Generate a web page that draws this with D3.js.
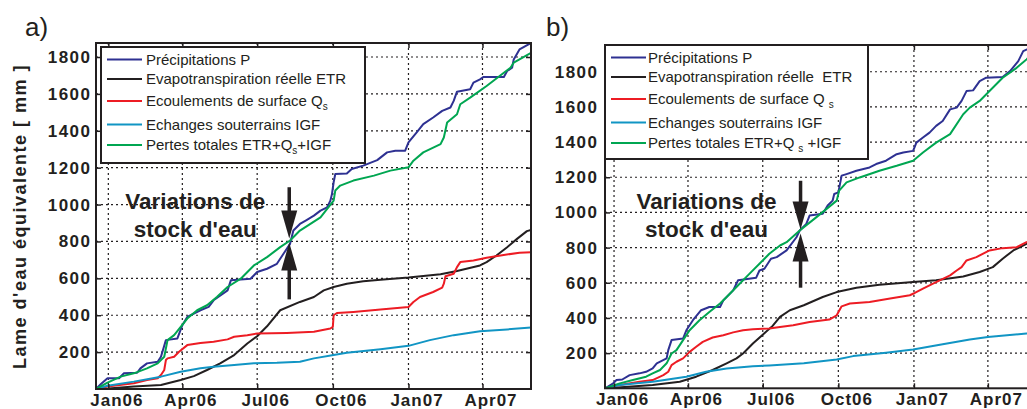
<!DOCTYPE html>
<html><head><meta charset="utf-8">
<script src="https://cdn.jsdelivr.net/npm/d3@7"></script>
<style>
body{margin:0;background:#fff}
svg{display:block}
text{font-family:"Liberation Sans",Arial,Helvetica,sans-serif;fill:#231f20}
</style>
</head><body>
<svg id="chart" width="1027" height="409"></svg>
<script>
// ---------- data (day = days since 1 Jan 2006, value in mm) ----------
const tickLabels = ["Jan06","Apr06","Jul06","Oct06","Jan07","Apr07"];
const tickDays = [0, 90, 181, 273, 365, 455];
const yTickValues = [200,400,600,800,1000,1200,1400,1600,1800];
const seriesColors = ["#2e3192","#231f20","#ed1c24","#1195c4","#00a651"];

// Panel a
const aP = [[-15,0],[-9,27],[-1,58],[13,58],[19,85],[35,88],[39,112],[47,139],[60,148],[64,175],[70,265],[84,274],[90,346],[96,391],[112,427],[122,445],[128,481],[145,535],[149,589],[173,598],[181,634],[193,652],[205,679],[213,733],[221,787],[225,859],[233,895],[240,913],[250,940],[258,967],[266,985],[270,1021],[272,1058],[274,1121],[276,1166],[290,1169],[296,1193],[310,1211],[327,1241],[339,1283],[349,1292],[361,1292],[365,1337],[375,1391],[383,1436],[395,1472],[406,1508],[416,1526],[420,1562],[424,1612],[440,1625],[444,1661],[452,1679],[456,1692],[481,1692],[485,1724],[491,1742],[493,1787],[500,1841],[511,1868],[514,1875]];
const aETR = [[-15,0],[0,3],[31,13],[64,22],[88,49],[104,70],[120,103],[136,139],[153,184],[169,247],[181,286],[193,340],[209,427],[233,472],[250,499],[262,535],[274,553],[290,571],[310,584],[331,593],[365,604],[404,622],[424,640],[452,670],[460,688],[472,724],[485,769],[497,814],[509,856],[514,863]];
const aQs = [[-15,0],[-1,13],[31,31],[47,49],[60,58],[64,76],[68,103],[70,157],[72,166],[80,175],[86,202],[96,238],[112,250],[128,256],[145,269],[153,283],[169,292],[181,301],[217,304],[250,310],[270,328],[273,337],[274,400],[278,412],[298,418],[331,431],[365,445],[371,472],[379,499],[395,526],[406,550],[408,571],[410,611],[420,625],[424,661],[428,688],[444,697],[460,712],[477,724],[500,739],[514,742]];
const aIGF = [[-15,0],[-1,18],[31,40],[64,67],[88,94],[112,112],[128,121],[153,130],[177,139],[205,142],[233,148],[250,166],[274,184],[290,196],[331,215],[365,234],[391,265],[420,292],[452,313],[485,323],[514,333]];
const aTot = [[-15,0],[-1,35],[15,67],[31,85],[47,112],[60,139],[68,175],[72,265],[80,292],[88,337],[96,382],[108,427],[120,454],[132,499],[145,553],[161,598],[177,670],[193,715],[209,769],[221,805],[233,859],[258,931],[274,1021],[276,1076],[282,1103],[298,1130],[323,1157],[343,1184],[365,1202],[371,1238],[383,1283],[404,1328],[408,1364],[412,1445],[424,1490],[428,1544],[440,1580],[460,1643],[481,1715],[489,1742],[493,1769],[500,1787],[514,1823]];

// Panel b
const bP = [[-11,0],[-1,28],[3,47],[10,50],[19,75],[31,85],[39,94],[47,113],[52,142],[64,170],[66,217],[70,274],[84,283],[88,330],[96,387],[106,444],[116,462],[129,462],[133,500],[145,557],[151,614],[173,629],[177,670],[183,680],[191,737],[198,746],[210,784],[222,859],[226,897],[234,935],[238,982],[254,992],[260,1039],[266,1067],[268,1105],[273,1114],[277,1209],[283,1218],[295,1237],[311,1256],[319,1275],[331,1294],[344,1331],[352,1341],[364,1350],[368,1397],[376,1426],[384,1454],[392,1492],[400,1520],[409,1586],[417,1596],[423,1634],[429,1690],[437,1694],[445,1747],[453,1766],[473,1770],[482,1804],[492,1860],[498,1917],[502,1926],[516,1950]];
const bETR = [[-11,0],[0,3],[47,19],[80,37],[100,66],[120,104],[137,142],[149,170],[157,198],[169,255],[185,321],[193,355],[202,406],[214,444],[231,472],[254,519],[271,547],[295,572],[323,589],[364,604],[392,614],[425,636],[445,661],[461,689],[473,737],[486,784],[502,821],[516,840]];
const bQs = [[-11,0],[7,19],[31,37],[47,47],[60,75],[66,94],[70,132],[76,151],[84,170],[92,207],[100,236],[108,264],[120,289],[133,302],[145,318],[157,330],[169,336],[181,339],[189,340],[202,349],[218,359],[238,377],[262,391],[271,415],[277,466],[287,482],[311,491],[336,510],[360,529],[366,542],[376,567],[392,604],[409,642],[417,670],[423,689],[429,727],[441,746],[457,784],[473,797],[490,802],[502,831],[516,840]];
const bIGF = [[-11,0],[7,19],[47,37],[88,66],[112,94],[137,113],[169,126],[189,130],[231,142],[271,164],[291,183],[331,202],[364,221],[400,251],[433,277],[455,292],[502,312],[516,318]];
const bTot = [[-11,0],[7,28],[23,47],[39,66],[47,85],[56,104],[64,142],[70,198],[76,217],[84,274],[92,330],[104,387],[116,434],[129,482],[137,519],[149,576],[165,652],[177,708],[189,765],[202,812],[210,831],[226,897],[246,972],[271,1067],[274,1124],[283,1171],[299,1199],[323,1237],[344,1265],[364,1294],[376,1341],[392,1397],[409,1445],[425,1558],[433,1596],[445,1634],[457,1690],[473,1766],[490,1822],[502,1870],[516,1930]];

const legendA = [[{t:"Précipitations P"}],[{t:"Evapotranspiration réelle ETR"}],[{t:"Ecoulements de surface Q"},{t:"s",sub:true}],[{t:"Echanges souterrains IGF"}],[{t:"Pertes totales ETR+Q"},{t:"s",sub:true},{t:"+IGF"}]];
const legendB = [[{t:"Précipitations P"}],[{t:"Evapotranspiration réelle  ETR"}],[{t:"Ecoulements de surface Q"},{t:"s",sub:true,gap:true}],[{t:"Echanges souterrains IGF"}],[{t:"Pertes totales ETR+Q"},{t:"s",sub:true,gap:true},{t:" +IGF"}]];
const annotationLines = ["Variations de","stock d'eau"];
const yAxisTitle = "Lame d'eau équivalente [ mm ]";

// ---------- layout ----------
const panels = [
  {label:"a)", labelX:25, left:96, right:531, top:43, bottom:389, dayMin:-15, dayMax:514, yMax:1876,
   data:[aP,aETR,aQs,aIGF,aTot], legend:legendA, legBox:{x:101,y:47,w:264,h:116}, legTextDx:45,
   arrow:{day:220, tip:805, top:1094, bottom:486}, yTitle:true, yTickGap:6},
  {label:"b)", labelX:546, left:605, right:1038, top:45, bottom:388.3, dayMin:-11, dayMax:516, yMax:1952,
   data:[bP,bETR,bQs,bIGF,bTot], legend:legendB, legBox:{x:605,y:45,w:263,h:114}, legTextDx:43,
   arrow:{day:227, tip:891, top:1180, bottom:572}, yTitle:false, yTickGap:8}
];
const legendRowDy = [12.5, 32, 54, 77.5, 98];

const svg = d3.select("#chart");
const toDate = d => new Date(Date.UTC(2006, 0, 1 + d));
const ink = "#231f20";

panels.forEach((p, pi) => {
  const xs = d3.scaleUtc().domain([toDate(p.dayMin), toDate(p.dayMax)]).range([p.left, p.right]);
  const ys = d3.scaleLinear().domain([0, p.yMax]).range([p.bottom, p.top]);
  const g = svg.append("g");
  const clipId = "clip" + pi;
  svg.append("clipPath").attr("id", clipId).append("rect")
    .attr("x", p.left).attr("y", p.top).attr("width", p.right - p.left).attr("height", p.bottom - p.top);

  // grid
  const grid = g.append("g").attr("stroke", ink).attr("stroke-width", 1.2).attr("stroke-dasharray", "2,3");
  grid.selectAll(".gx").data(tickDays).join("line")
    .attr("x1", d => xs(toDate(d))).attr("x2", d => xs(toDate(d)))
    .attr("y1", p.top).attr("y2", p.bottom);
  grid.selectAll(".gy").data(yTickValues).join("line")
    .attr("x1", p.left).attr("x2", p.right)
    .attr("y1", d => ys(d)).attr("y2", d => ys(d));

  // curves
  const line = d3.line().x(d => xs(toDate(d[0]))).y(d => ys(d[1]));
  const cg = g.append("g").attr("clip-path", `url(#${clipId})`);
  p.data.forEach((s, i) => {
    cg.append("path").attr("d", line(s)).attr("fill", "none")
      .attr("stroke", seriesColors[i]).attr("stroke-width", 2).attr("stroke-linejoin", "round");
  });

  // axes (inward ticks)
  const tickVals = tickDays.map(toDate);
  const ax = g.append("g").attr("transform", `translate(0,${p.bottom})`)
    .call(d3.axisBottom(xs).tickValues(tickVals).tickSize(-5).tickPadding(5)
      .tickFormat((d, i) => tickLabels[i]));
  ax.select(".domain").remove();
  ax.selectAll("line").attr("stroke", ink).attr("stroke-width", 1.5);
  ax.selectAll("text").attr("dx", 8).attr("font-size", 17).attr("font-weight", "bold")
    .attr("letter-spacing", "1px").attr("fill", ink).attr("font-family", null);

  const ay = g.append("g").attr("transform", `translate(${p.left},0)`)
    .call(d3.axisLeft(ys).tickValues(yTickValues).tickSize(-5).tickPadding(p.yTickGap - 1.5)
      .tickFormat(d3.format("d")));
  ay.select(".domain").remove();
  ay.selectAll("line").attr("stroke", ink).attr("stroke-width", 1.5);
  ay.selectAll("text").attr("font-size", 17).attr("font-weight", "bold")
    .attr("letter-spacing", "1.5px").attr("fill", ink).attr("font-family", null);

  const at = g.append("g").attr("transform", `translate(0,${p.top})`)
    .call(d3.axisTop(xs).tickValues(tickVals).tickSize(-5).tickFormat(""));
  at.select(".domain").remove();
  at.selectAll("line").attr("stroke", ink).attr("stroke-width", 1.5);
  const ar = g.append("g").attr("transform", `translate(${p.right},0)`)
    .call(d3.axisRight(ys).tickValues(yTickValues).tickSize(-5).tickFormat(""));
  ar.select(".domain").remove();
  ar.selectAll("line").attr("stroke", ink).attr("stroke-width", 1.5);

  // frame
  g.append("rect").attr("x", p.left).attr("y", p.top)
    .attr("width", p.right - p.left).attr("height", p.bottom - p.top)
    .attr("fill", "none").attr("stroke", ink).attr("stroke-width", 2);

  // legend
  const lb = p.legBox;
  const lg = g.append("g").attr("transform", `translate(${lb.x},${lb.y})`);
  lg.append("rect").attr("width", lb.w).attr("height", lb.h)
    .attr("fill", "#fff").attr("stroke", ink).attr("stroke-width", 2);
  p.legend.forEach((parts, i) => {
    const yy = legendRowDy[i];
    lg.append("line").attr("x1", 6).attr("x2", 41).attr("y1", yy).attr("y2", yy)
      .attr("stroke", seriesColors[i]).attr("stroke-width", 2);
    const t = lg.append("text").attr("x", p.legTextDx).attr("y", yy + 5.3)
      .attr("font-size", 15).style("white-space", "pre");
    parts.forEach((pt, j) => {
      const sp = t.append("tspan").text(pt.t);
      if (pt.sub) {
        sp.attr("font-size", 10).attr("dy", 4);
        if (pt.gap) sp.attr("dx", 4);
      } else if (j > 0 && parts[j - 1].sub) {
        sp.attr("dy", -4);
      }
    });
  });

  // annotation arrows
  const axp = xs(toDate(p.arrow.day));
  const tipY = ys(p.arrow.tip);
  const headL = 28, headW = 8;
  const an = g.append("g").attr("fill", ink).attr("stroke", ink);
  an.append("line").attr("x1", axp).attr("x2", axp).attr("y1", ys(p.arrow.top)).attr("y2", tipY - headL)
    .attr("stroke-width", 3.5);
  an.append("path").attr("stroke", "none")
    .attr("d", `M${axp - headW},${tipY - 2 - headL}L${axp + headW},${tipY - 2 - headL}L${axp},${tipY - 2}Z`);
  an.append("line").attr("x1", axp).attr("x2", axp).attr("y1", ys(p.arrow.bottom)).attr("y2", tipY + headL)
    .attr("stroke-width", 3.5);
  an.append("path").attr("stroke", "none")
    .attr("d", `M${axp - headW},${tipY + 2 + headL}L${axp + headW},${tipY + 2 + headL}L${axp},${tipY + 2}Z`);
  annotationLines.forEach((s, i) => {
    g.append("text").attr("x", axp - 94).attr("y", 209 + i * 27.5)
      .attr("text-anchor", "middle").attr("font-size", 22.5).attr("font-weight", "bold").text(s);
  });

  // panel label
  svg.append("text").attr("x", p.labelX).attr("y", 36).attr("font-size", 26).text(p.label);

  // y title
  if (p.yTitle) {
    svg.append("text").attr("transform", "translate(25.5,216.5) rotate(-90)")
      .attr("text-anchor", "middle").attr("font-size", 18).attr("font-weight", "bold")
      .attr("letter-spacing", "1.5px").text(yAxisTitle);
  }
});
</script>
</body></html>
